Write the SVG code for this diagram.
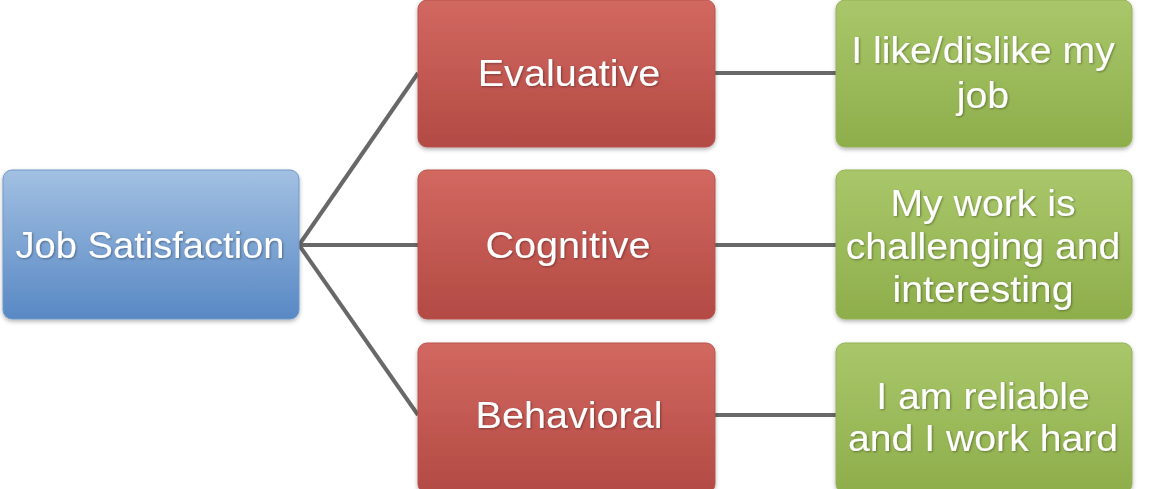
<svg xmlns="http://www.w3.org/2000/svg" width="1149" height="489" viewBox="0 0 1149 489">
<defs>
<linearGradient id="gBlue" x1="0" y1="0" x2="0" y2="1"><stop offset="0" stop-color="#a2c0e2"/><stop offset="1" stop-color="#5888c4"/></linearGradient>
<linearGradient id="gRed" x1="0" y1="0" x2="0" y2="1"><stop offset="0" stop-color="#d26860"/><stop offset="1" stop-color="#b34a44"/></linearGradient>
<linearGradient id="gGreen" x1="0" y1="0" x2="0" y2="1"><stop offset="0" stop-color="#a9c76a"/><stop offset="1" stop-color="#8eae4b"/></linearGradient>
<filter id="sh" x="-5%" y="-5%" width="110%" height="115%"><feDropShadow dx="0" dy="2" stdDeviation="2" flood-color="#000" flood-opacity="0.3"/></filter>
<filter id="tsh" x="-5%" y="-10%" width="110%" height="130%"><feDropShadow dx="1" dy="1" stdDeviation="0.8" flood-color="#000" flood-opacity="0.35"/></filter>
</defs>
<style>
.box{filter:url(#sh);}
.blue{fill:url(#gBlue);stroke:#6f98c8;stroke-width:1;}
.red{fill:url(#gRed);stroke:#b8524c;stroke-width:1;}
.green{fill:url(#gGreen);stroke:#93b253;stroke-width:1;}
.t{font-family:"Liberation Sans",Arial,sans-serif;font-size:37px;fill:#fff;text-anchor:middle;filter:url(#tsh);}
.c{stroke:#686868;stroke-width:4;fill:none;}
</style>
<g id="connectors">
<line class="c" x1="299" y1="245" x2="418" y2="73"/>
<line class="c" x1="299" y1="245" x2="418" y2="245"/>
<line class="c" x1="299" y1="245" x2="418" y2="415"/>
<line class="c" x1="715" y1="73" x2="836" y2="73"/>
<line class="c" x1="715" y1="245" x2="836" y2="245"/>
<line class="c" x1="715" y1="415" x2="836" y2="415"/>
</g>
<g id="job-satisfaction">
<rect class="box blue" x="3" y="170" width="296" height="149" rx="9"/>
<text class="t" transform="translate(150 258) scale(1.03 1)">Job Satisfaction</text>
</g>
<g id="evaluative">
<rect class="box red" x="418" y="0" width="297" height="147" rx="9"/>
<text class="t" transform="translate(569 86) scale(1.07 1)">Evaluative</text>
</g>
<g id="cognitive">
<rect class="box red" x="418" y="170" width="297" height="149" rx="9"/>
<text class="t" transform="translate(568 258) scale(1.07 1)">Cognitive</text>
</g>
<g id="behavioral">
<rect class="box red" x="418" y="343" width="297" height="150" rx="9"/>
<text class="t" transform="translate(569 428) scale(1.07 1)">Behavioral</text>
</g>
<g id="like-dislike">
<rect class="box green" x="836" y="0" width="296" height="147" rx="9"/>
<text class="t" transform="translate(983 63) scale(1.06 1)">I like/dislike my</text>
<text class="t" transform="translate(983 108) scale(1.06 1)">job</text>
</g>
<g id="challenging">
<rect class="box green" x="836" y="170" width="296" height="149" rx="9"/>
<text class="t" transform="translate(983 216) scale(1.06 1)">My work is</text>
<text class="t" transform="translate(983 259) scale(1.06 1)">challenging and</text>
<text class="t" transform="translate(983 302) scale(1.06 1)">interesting</text>
</g>
<g id="reliable">
<rect class="box green" x="836" y="343" width="296" height="150" rx="9"/>
<text class="t" transform="translate(983 409) scale(1.06 1)">I am reliable</text>
<text class="t" transform="translate(983 451) scale(1.06 1)">and I work hard</text>
</g>
</svg>
